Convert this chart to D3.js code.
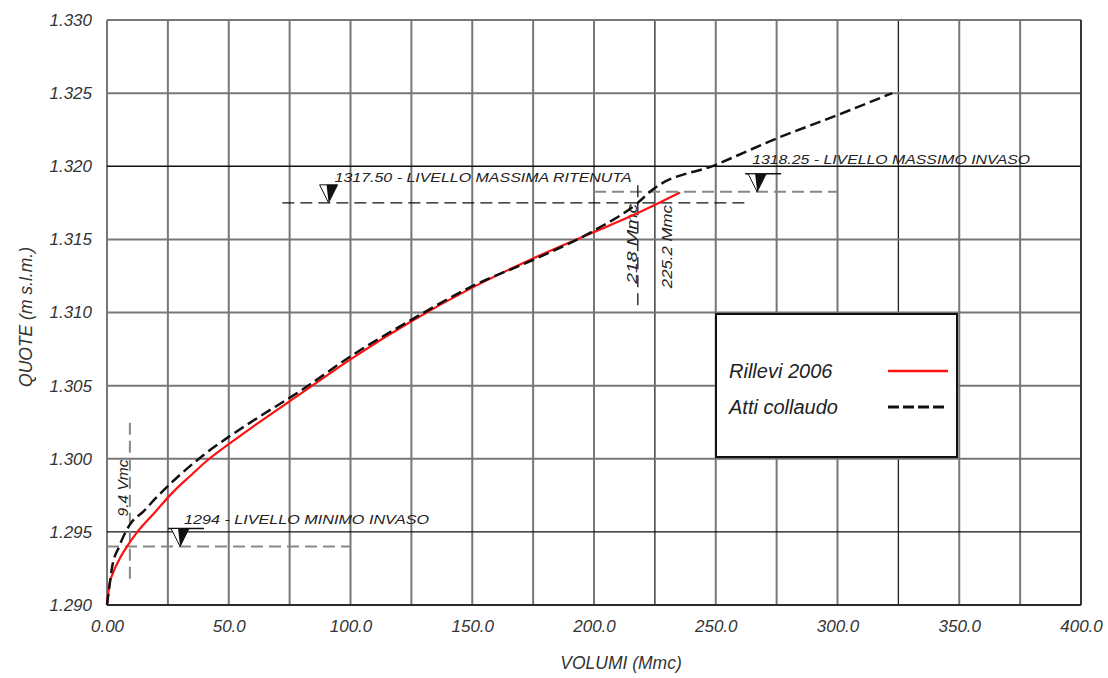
<!DOCTYPE html>
<html>
  <head>
    <style>
      body,
      html {
        margin: 0;
        padding: 0;
        background: #fff;
        overflow: hidden;
      }
      svg {
        display: block;
        font-family: "Liberation Sans", Arial, sans-serif;
        font-style: italic;
      }
    </style>
  </head>
  <body>
    <script src="https://cdn.jsdelivr.net/npm/d3@7/dist/d3.min.js"></script>
    <script>
      // volumes (Mmc) and levels (thousands of m s.l.m.)
      const rilieviVol = [0, 1, 2.5, 5, 8.2, 12, 20, 27, 34, 42, 50, 60, 80, 100, 125, 150, 175, 200, 218, 235.3];
      const rilieviQuota = [1.290, 1.2914, 1.2922, 1.2931, 1.294, 1.2949, 1.2964, 1.2977, 1.2988, 1.3, 1.301, 1.3022, 1.3045, 1.3068, 1.3094, 1.3117, 1.3137, 1.3155, 1.3168, 1.3182];

      const collaudoVol = [0, 1, 2, 5, 9.4, 15, 20, 30, 40, 50, 60, 80, 100, 125, 150, 175, 200, 218, 224, 250, 275, 300, 322.5];
      const collaudoQuota = [1.290, 1.2913, 1.2925, 1.294, 1.2955, 1.2964, 1.2973, 1.2989, 1.3003, 1.3015, 1.3026, 1.3047, 1.307, 1.3095, 1.3118, 1.3136, 1.3156, 1.3175, 1.3184, 1.3201, 1.3219, 1.3235, 1.325];

      const xTicks = [0, 50, 100, 150, 200, 250, 300, 350, 400];
      const xTickLabels = ["0.00", "50.0", "100.0", "150.0", "200.0", "250.0", "300.0", "350.0", "400.0"];
      const yTicks = [1.29, 1.295, 1.3, 1.305, 1.31, 1.315, 1.32, 1.325, 1.33];
      const yTickLabels = ["1.290", "1.295", "1.300", "1.305", "1.310", "1.315", "1.320", "1.325", "1.330"];

      // reference levels: [quota, from vol, to vol, label]
      const livelli = [
        [1.294, 0, 100, "1294  -   LIVELLO MINIMO INVASO"],
        [1.3175, 72, 262, "1317.50  -   LIVELLO MASSIMA RITENUTA"],
        [1.31825, 200, 300, "1318.25  -   LIVELLO MASSIMO INVASO"],
      ];
      // volume markers: [vol, quota from, quota to, label]
      const volumi = [
        [9.4, 1.2918, 1.3025, "9.4 Vmc"],
        [218, 1.3105, 1.3188, "218 Mmc"],
        [225.2, 1.3125, 1.3175, "225.2 Mmc"],
      ];

      const width = 1108;
      const height = 678;
      const margin = { top: 20, right: 27, bottom: 73, left: 107 };

      const svg = d3
        .select("body")
        .append("svg")
        .attr("width", width)
        .attr("height", height);

      const x = d3
        .scaleLinear()
        .domain([0, 400])
        .range([margin.left, width - margin.right]);
      const y = d3
        .scaleLinear()
        .domain([1.29, 1.33])
        .range([height - margin.bottom, margin.top]);

      // grid every 25 Mmc and every 0.005
      const gridX = d3.range(0, 401, 25);
      const gridY = d3.range(0, 9).map((i) => 1.29 + i * 0.005);
      const blackX = [225, 325];
      const blackY = [1.295, 1.32];
      const isBlackY = (d) => blackY.some((b) => Math.abs(b - d) < 1e-6);

      svg
        .append("g")
        .selectAll("line")
        .data(gridX)
        .join("line")
        .attr("x1", (d) => x(d))
        .attr("x2", (d) => x(d))
        .attr("y1", y(1.29))
        .attr("y2", y(1.33))
        .attr("stroke", (d) => (blackX.includes(d) ? "#222" : "#777"))
        .attr("stroke-width", (d) => (blackX.includes(d) ? 1.3 : 2));

      svg
        .append("g")
        .selectAll("line")
        .data(gridY)
        .join("line")
        .attr("x1", x(0))
        .attr("x2", x(400))
        .attr("y1", (d) => y(d))
        .attr("y2", (d) => y(d))
        .attr("stroke", (d) => (isBlackY(d) ? "#111" : "#777"))
        .attr("stroke-width", (d) => (isBlackY(d) ? 1.3 : 2));

      // border
      svg
        .append("line")
        .attr("x1", x(0)).attr("x2", x(400))
        .attr("y1", y(1.29)).attr("y2", y(1.29))
        .attr("stroke", "#111").attr("stroke-width", 1.5);
      svg
        .append("line")
        .attr("x1", x(400)).attr("x2", x(400))
        .attr("y1", y(1.29)).attr("y2", y(1.33))
        .attr("stroke", "#222").attr("stroke-width", 1.5);

      // axes (labels only)
      const xAxis = svg
        .append("g")
        .attr("transform", `translate(0,${y(1.29)})`)
        .call(
          d3
            .axisBottom(x)
            .tickValues(xTicks)
            .tickSize(0)
            .tickPadding(15)
            .tickFormat((d, i) => xTickLabels[i])
        );
      const yAxis = svg
        .append("g")
        .attr("transform", `translate(${x(0)},0)`)
        .call(
          d3
            .axisLeft(y)
            .tickValues(yTicks)
            .tickSize(0)
            .tickPadding(15)
            .tickFormat((d, i) => yTickLabels[i])
        );
      [xAxis, yAxis].forEach((a) => {
        a.select(".domain").remove();
        a.selectAll("text")
          .attr("font-family", "Liberation Sans, Arial, sans-serif")
          .attr("font-style", "italic")
          .attr("font-size", 17)
          .attr("fill", "#333");
      });

      svg
        .append("text")
        .attr("x", 621)
        .attr("y", 669)
        .attr("text-anchor", "middle")
        .attr("font-size", 17.5)
        .attr("fill", "#333")
        .text("VOLUMI (Mmc)");
      svg
        .append("text")
        .attr("transform", "translate(32,317) rotate(-90)")
        .attr("text-anchor", "middle")
        .attr("font-size", 17.5)
        .attr("fill", "#333")
        .text("QUOTE (m s.l.m.)");

      // reference level lines
      svg
        .append("g")
        .selectAll("line")
        .data(livelli)
        .join("line")
        .attr("x1", (d) => x(d[1]))
        .attr("x2", (d) => x(d[2]))
        .attr("y1", (d) => y(d[0]))
        .attr("y2", (d) => y(d[0]))
        .attr("stroke", (d, i) => (i === 1 ? "#111" : "#888"))
        .attr("stroke-width", (d, i) => (i === 1 ? 1.3 : 2))
        .attr("stroke-dasharray", "12,6");

      // level triangles (half filled) and labels
      const triVol = [30, 91, 267];
      const textDx = [4, 6, -5];
      const textDy = [-23, -21, -28];
      const textLen = [245, 297, 278];
      const lab = svg.append("g");
      livelli.forEach((d, i) => {
        const cx = x(triVol[i]);
        const ty = y(d[0]);
        const g = lab.append("g").attr("transform", `translate(${cx},${ty})`);
        if (i !== 1) {
          g.append("line")
            .attr("x1", -12).attr("x2", 24)
            .attr("y1", -18).attr("y2", -18)
            .attr("stroke", "#111").attr("stroke-width", 1.5);
        }
        g.append("path")
          .attr("d", "M-9,-18 L0,0 L9,-18 Z")
          .attr("fill", "#fff").attr("stroke", "#111").attr("stroke-width", 1);
        g.append("path")
          .attr("d", "M-2,-18 L0,0 L9,-18 Z")
          .attr("fill", "#111");
        lab.append("text")
          .attr("x", cx + textDx[i])
          .attr("y", ty + textDy[i])
          .attr("font-size", 12)
          .attr("fill", "#222")
          .attr("textLength", textLen[i])
          .attr("lengthAdjust", "spacingAndGlyphs")
          .text(d[3]);
      });

      // volume markers
      svg
        .append("g")
        .selectAll("line")
        .data(volumi.slice(0, 2))
        .join("line")
        .attr("x1", (d) => x(d[0]))
        .attr("x2", (d) => x(d[0]))
        .attr("y1", (d) => y(d[1]))
        .attr("y2", (d) => y(d[2]))
        .attr("stroke", (d, i) => (i === 0 ? "#888" : "#111"))
        .attr("stroke-width", (d, i) => (i === 0 ? 2 : 1.3))
        .attr("stroke-dasharray", "12,6");

      const volOff = [-2, -1, 17];
      const volMid = [1.298, 1.3147, 1.3145];
      const volLen = [57, 80, 83];
      svg
        .append("g")
        .selectAll("text")
        .data(volumi)
        .join("text")
        .attr("transform", (d, i) =>
          `translate(${x(d[0]) + volOff[i]},${y(volMid[i])}) rotate(-90)`
        )
        .attr("text-anchor", "middle")
        .attr("font-size", 14)
        .attr("fill", "#222")
        .attr("textLength", (d, i) => volLen[i])
        .attr("lengthAdjust", "spacingAndGlyphs")
        .text((d) => d[3]);

      // curves
      const line = d3
        .line()
        .x((d) => x(d[0]))
        .y((d) => y(d[1]))
        .curve(d3.curveMonotoneX);

      svg
        .append("path")
        .datum(rilieviVol.map((v, i) => [v, rilieviQuota[i]]))
        .attr("d", line)
        .attr("fill", "none")
        .attr("stroke", "#ff1010")
        .attr("stroke-width", 2.2);

      svg
        .append("path")
        .datum(collaudoVol.map((v, i) => [v, collaudoQuota[i]]))
        .attr("d", line)
        .attr("fill", "none")
        .attr("stroke", "#111")
        .attr("stroke-width", 2.5)
        .attr("stroke-dasharray", "11,5");

      // legend
      const leg = svg.append("g").attr("transform", "translate(716,314)");
      leg.append("rect")
        .attr("width", 241)
        .attr("height", 143)
        .attr("fill", "#fff")
        .attr("stroke", "#111")
        .attr("stroke-width", 2);
      const legItems = [
        ["Rillevi 2006", "#ff1010", "0"],
        ["Atti collaudo", "#111", "11,4"],
      ];
      legItems.forEach((d, i) => {
        leg.append("text")
          .attr("x", 13)
          .attr("y", 64 + i * 36)
          .attr("font-size", 20)
          .attr("fill", "#222")
          .text(d[0]);
        leg.append("line")
          .attr("x1", 172)
          .attr("x2", 232)
          .attr("y1", 57 + i * 36)
          .attr("y2", 57 + i * 36)
          .attr("stroke", d[1])
          .attr("stroke-width", i === 0 ? 2.5 : 3)
          .attr("stroke-dasharray", d[2]);
      });
    </script>
  </body>
</html>
